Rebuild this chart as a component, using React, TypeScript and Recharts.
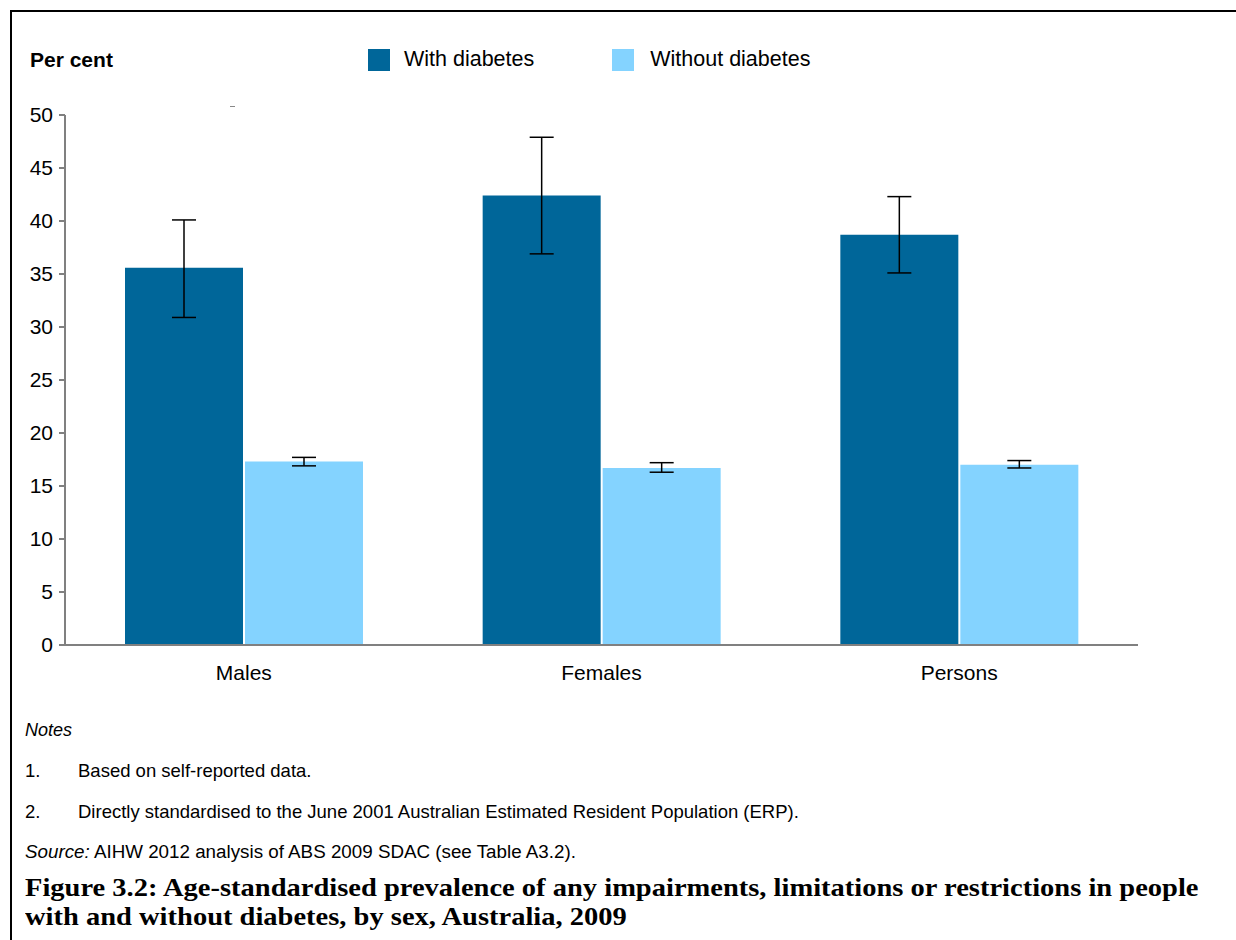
import { BarChart, Bar, XAxis, YAxis, ErrorBar } from "recharts";

const groups = ["Males", "Females", "Persons"];
const withDiabetes = [35.6, 42.4, 38.7];
const withLow = [30.9, 36.9, 35.1];
const withHigh = [40.1, 47.9, 42.3];
const withoutDiabetes = [17.3, 16.7, 17.0];
const withoutLow = [16.9, 16.3, 16.7];
const withoutHigh = [17.7, 17.2, 17.4];
const yTicks = [0, 5, 10, 15, 20, 25, 30, 35, 40, 45, 50];

const data = groups.map((g, i) => ({
  group: g,
  withD: withDiabetes[i],
  withErr: [withDiabetes[i] - withLow[i], withHigh[i] - withDiabetes[i]],
  withoutD: withoutDiabetes[i],
  withoutErr: [withoutDiabetes[i] - withoutLow[i], withoutHigh[i] - withoutDiabetes[i]],
}));

const DARK = "#006699";
const LIGHT = "#84D3FF";
const AXIS = "#808080";
const sans = "'Liberation Sans', Arial, sans-serif";

export default function App() {
  return (
    <div
      style={{
        position: "absolute",
        left: 0,
        top: 0,
        width: 1236,
        height: 940,
        overflow: "hidden",
        background: "#fff",
        fontFamily: sans,
      }}
    >
      <div
        style={{
          position: "absolute",
          left: 10,
          top: 10,
          width: 1300,
          height: 1000,
          borderTop: "2px solid #000",
          borderLeft: "2px solid #000",
        }}
      />
      <div style={{ position: "absolute", left: 30, top: 48, fontSize: 21, fontWeight: "bold" }}>
        Per cent
      </div>
      <div style={{ position: "absolute", left: 368, top: 47, display: "flex", alignItems: "center" }}>
        <div style={{ width: 22, height: 22, background: DARK }} />
        <span style={{ marginLeft: 14, fontSize: 21.5 }}>With diabetes</span>
        <div style={{ width: 22, height: 22, background: LIGHT, marginLeft: 78 }} />
        <span style={{ marginLeft: 16, fontSize: 21.5 }}>Without diabetes</span>
      </div>
      <div style={{ position: "absolute", left: 230, top: 106, width: 5, height: 1, background: "#888" }} />
      <div style={{ position: "absolute", left: 0, top: 0 }}>
        <BarChart
          width={1236}
          height={700}
          data={data}
          margin={{ top: 115, right: 98, left: 10, bottom: 25 }}
          barCategoryGap={60}
          barGap={2}
        >
          <XAxis
            dataKey="group"
            tickLine={false}
            stroke={AXIS}
            strokeWidth={2}
            tickMargin={14}
            height={30}
            tick={{ fill: "#000", fontSize: 21, fontFamily: sans }}
          />
          <YAxis
            domain={[0, 50]}
            ticks={yTicks}
            interval={0}
            width={55}
            stroke={AXIS}
            strokeWidth={2}
            tickSize={6}
            tickMargin={6}
            tick={{ fill: "#000", fontSize: 21, fontFamily: sans }}
          />
          <Bar dataKey="withD" fill={DARK} isAnimationActive={false}>
            <ErrorBar dataKey="withErr" width={12} stroke="#000" strokeWidth={1.5} />
          </Bar>
          <Bar dataKey="withoutD" fill={LIGHT} isAnimationActive={false}>
            <ErrorBar dataKey="withoutErr" width={12} stroke="#000" strokeWidth={1.5} />
          </Bar>
        </BarChart>
      </div>
      <div style={{ position: "absolute", left: 25, top: 720, fontSize: 18, fontStyle: "italic" }}>Notes</div>
      <div style={{ position: "absolute", left: 25, top: 760, fontSize: 18.5 }}>1.</div>
      <div style={{ position: "absolute", left: 78, top: 760, fontSize: 18.5 }}>Based on self-reported data.</div>
      <div style={{ position: "absolute", left: 25, top: 801, fontSize: 18.5 }}>2.</div>
      <div style={{ position: "absolute", left: 78, top: 801, fontSize: 18.5 }}>
        Directly standardised to the June 2001 Australian Estimated Resident Population (ERP).
      </div>
      <div style={{ position: "absolute", left: 25, top: 841, fontSize: 18.8 }}>
        <i>Source:</i> AIHW 2012 analysis of ABS 2009 SDAC (see Table A3.2).
      </div>
      <div
        style={{
          position: "absolute",
          left: 25,
          top: 873,
          width: 1200,
          fontSize: 25,
          lineHeight: "29px",
          fontWeight: "bold",
          fontFamily: "'Liberation Serif', 'DejaVu Serif', serif",
          whiteSpace: "nowrap",
          transform: "scaleX(1.14)",
          transformOrigin: "left top",
        }}
      >
        Figure 3.2: Age-standardised prevalence of any impairments, limitations or restrictions in people
        <br />
        with and without diabetes, by sex, Australia, 2009
      </div>
    </div>
  );
}
